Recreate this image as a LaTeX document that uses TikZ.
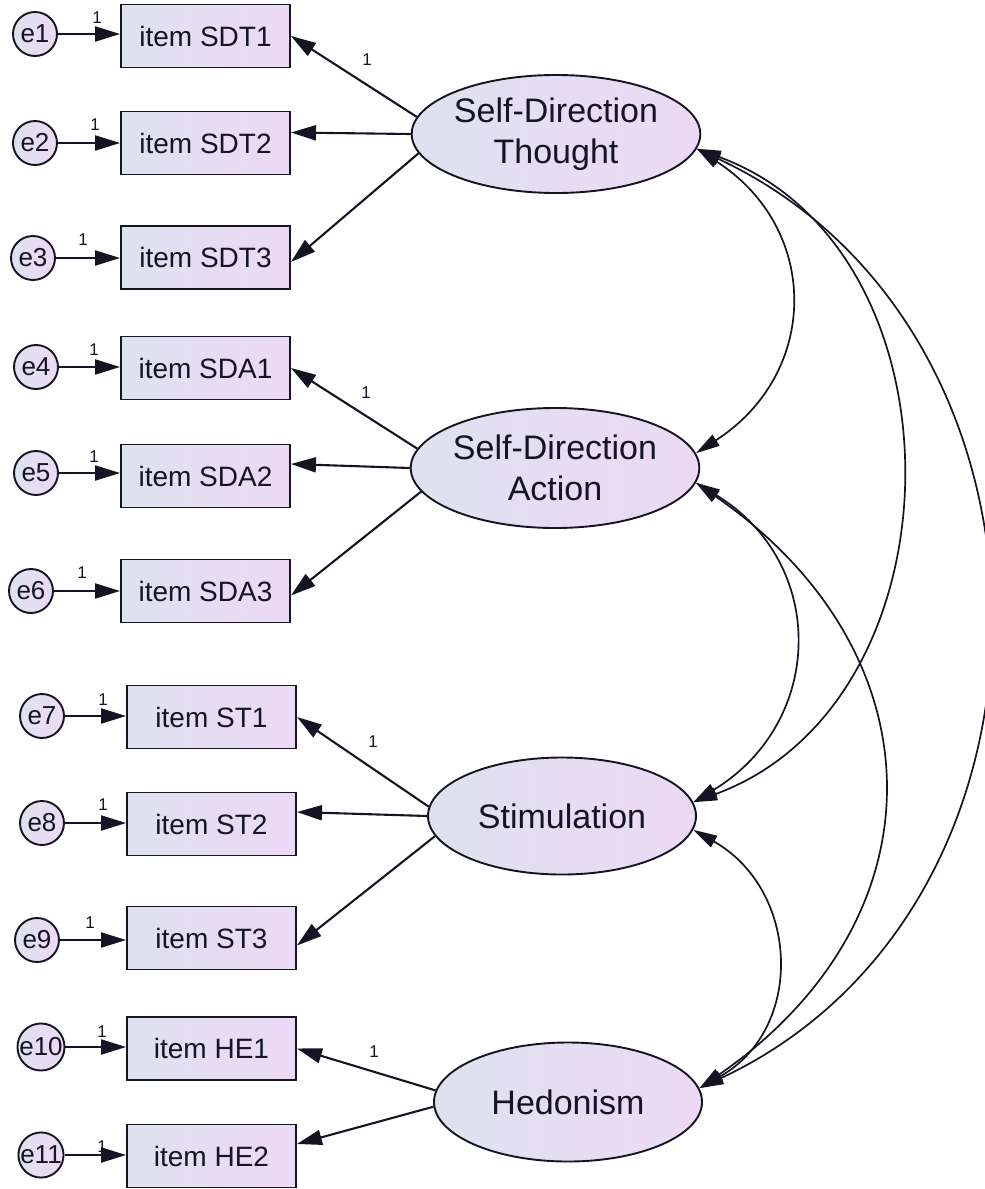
\documentclass[tikz,border=0pt]{standalone}
\usepackage{fontspec}
\setmainfont{Liberation Sans}
\usetikzlibrary{shapes.geometric,arrows.meta}
\definecolor{lc}{RGB}{222,226,238}
\definecolor{rc}{RGB}{237,217,245}
\definecolor{ink}{RGB}{20,20,35}
\begin{document}
\begin{tikzpicture}[x=1pt,y=-1pt,
  obs/.style={draw=ink, line width=1.9pt, rectangle, minimum width=169pt, minimum height=63pt, inner sep=0pt, left color=lc, right color=rc, text=ink, font=\fontsize{28}{32}\selectfont},
  lat/.style={draw=ink, line width=1.9pt, ellipse, minimum width=268pt, minimum height=118pt, inner sep=0pt, left color=lc, right color=rc, text=ink, align=center, font=\fontsize{34}{41}\selectfont},
  err/.style={draw=ink, line width=1.9pt, circle, minimum size=44pt, inner sep=0pt, left color=lc, right color=rc, text=ink, font=\fontsize{26}{28}\selectfont},
  load/.style={draw=ink, -{Triangle[length=25pt,width=15pt]}, line width=2.1pt},
  cov/.style={draw=ink, {Triangle[length=24pt,width=13pt]}-{Triangle[length=24pt,width=13pt]}, line width=1.7pt},
  one/.style={text=ink, font=\fontsize{17}{18}\selectfont, inner sep=0pt}
]
\useasboundingbox (0,0) rectangle (985,1189);

% latent variables
\node[lat] (SDT) at (556,134) {Self-Direction\\Thought};
\node[lat, minimum height=120pt] (SDA) at (555,468) {Self-Direction\\Action};
\node[lat, minimum height=117pt] (ST) at (562,816) {Stimulation};
\node[lat, minimum height=119pt] (HE) at (568,1102) {Hedonism};

% observed items
\node[obs] (b1) at (205.5,36) {item SDT1};
\node[obs] (b2) at (205.5,143) {item SDT2};
\node[obs] (b3) at (205.5,257.5) {item SDT3};
\node[obs] (b4) at (205.5,368) {item SDA1};
\node[obs] (b5) at (205.5,476) {item SDA2};
\node[obs] (b6) at (205.5,591) {item SDA3};
\node[obs] (b7) at (211.5,717) {item ST1};
\node[obs] (b8) at (211.5,824) {item ST2};
\node[obs] (b9) at (211.5,938) {item ST3};
\node[obs] (b10) at (211.5,1048.5) {item HE1};
\node[obs] (b11) at (211.5,1156) {item HE2};

% errors
\node[err] (e1) at (35,34) {e1};
\node[err] (e2) at (35,143) {e2};
\node[err] (e3) at (33,258) {e3};
\node[err] (e4) at (36,367) {e4};
\node[err] (e5) at (36,473) {e5};
\node[err] (e6) at (31,591) {e6};
\node[err] (e7) at (42,716) {e7};
\node[err] (e8) at (42,823) {e8};
\node[err] (e9) at (37,940) {e9};
\node[err] (e10) at (41,1047) {e10};
\node[err] (e11) at (41,1155) {e11};

% error paths
\foreach \i in {1,...,11}{
  \draw[load] (e\i.east) -- (e\i.east -| b\i.west);
}

% loadings
\draw[load] (SDT.173) -- (b1.east);
\draw[load] (SDT.180) -- (b2.7);
\draw[load] (SDT.188) -- (b3.-3);
\draw[load] (SDA.172) -- (b4.east);
\draw[load] (SDA.180) -- (b5.8.7);
\draw[load] (SDA.190) -- (b6.-3);
\draw[load] (ST.176) -- (b7.east);
\draw[load] (ST.180) -- (b8.8);
\draw[load] (ST.189) -- (b9.-5);
\draw[load] (HE.175) -- (b10.east);
\draw[load] (HE.182) -- (b11.8.7);

% covariances
\draw[cov] (SDT.-6) .. controls +(124,80) and +(124,-80) .. (SDA.6);
\draw[cov] (SDT.-6) .. controls +(273,100) and +(273,-100) .. (ST.6);
\draw[cov] (SDT.-6) .. controls +(385,180) and +(385,-180) .. (HE.6);
\draw[cov] (SDA.-6) .. controls +(132,80) and +(132,-80) .. (ST.6);
\draw[cov] (SDA.-6) .. controls +(246,170) and +(246,-170) .. (HE.6);
\draw[cov] (ST.-6) .. controls +(106,60) and +(106,-60) .. (HE.6);

% labels
\node[one] (l1) at (367,60) {1};
\node[one] (l2) at (366,393) {1};
\node[one] (l3) at (373,742) {1};
\node[one] (l4) at (374,1052) {1};
\node[one] (m1) at (97,18) {1};
\node[one] (m2) at (95,125) {1};
\node[one] (m3) at (83,240) {1};
\node[one] (m4) at (94,350) {1};
\node[one] (m5) at (94,457) {1};
\node[one] (m6) at (82,573) {1};
\node[one] (m7) at (103,700) {1};
\node[one] (m8) at (103,805) {1};
\node[one] (m9) at (90,923) {1};
\node[one] (m10) at (102,1032) {1};
\node[one] (m11) at (102,1147) {1};
\end{tikzpicture}
\end{document}
